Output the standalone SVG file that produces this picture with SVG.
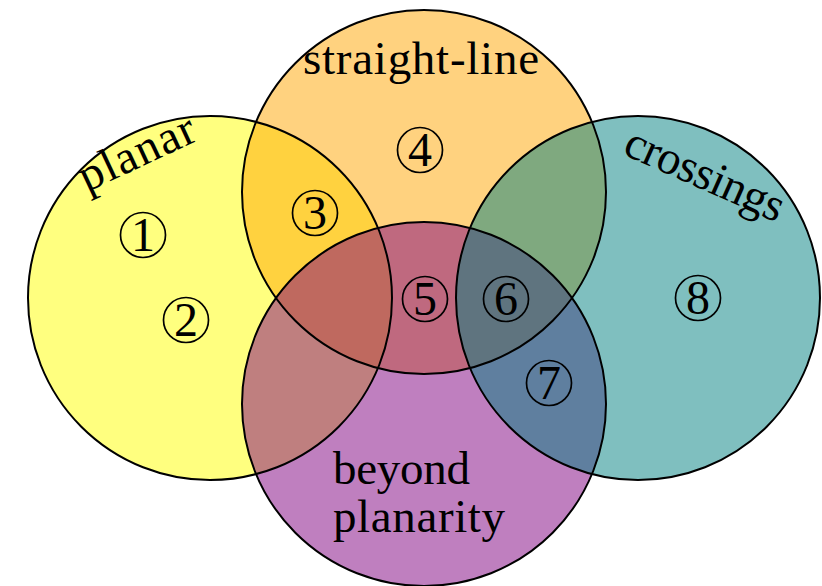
<svg xmlns="http://www.w3.org/2000/svg" width="822" height="586" viewBox="0 0 822 586">
<style>
.fill{stroke:none;fill-opacity:0.5}
.edge{fill:none;stroke:#000;stroke-width:2}
.lbl{font-family:"Liberation Serif","DejaVu Serif",serif;font-size:47px;fill:#000}
.num circle{fill:none;stroke:#000;stroke-width:1.7}
.num text{font-family:"Liberation Serif","DejaVu Serif",serif;font-size:48px;fill:#000;text-anchor:middle}
</style>
<rect width="822" height="586" fill="#fff"/>
<g id="fills">
<circle class="fill" cx="210" cy="298" r="182" fill="#ffff00"/>
<circle class="fill" cx="424" cy="192" r="182" fill="#ffa500"/>
<circle class="fill" cx="424" cy="404" r="182" fill="#800080"/>
<circle class="fill" cx="638" cy="298" r="182" fill="#008080"/>
</g>
<g id="planar">
<circle class="edge" cx="210" cy="298" r="182"/>
<text class="lbl" transform="translate(143,166) rotate(-25)" text-anchor="middle" textLength="124">planar</text>
</g>
<g id="straight-line">
<circle class="edge" cx="424" cy="192" r="182"/>
<text class="lbl" x="421" y="74" text-anchor="middle" textLength="236">straight-line</text>
</g>
<g id="beyond-planarity">
<circle class="edge" cx="424" cy="404" r="182"/>
<text class="lbl" x="333" y="484" textLength="137">beyond</text>
<text class="lbl" x="333" y="532" textLength="172">planarity</text>
</g>
<g id="crossings">
<circle class="edge" cx="638" cy="298" r="182"/>
<text class="lbl" transform="translate(699,188) rotate(24)" text-anchor="middle" textLength="170">crossings</text>
</g>
<g id="regions" class="num">
<g id="r1"><circle cx="143" cy="235" r="22.5"/><text x="143" y="251">1</text></g>
<g id="r2"><circle cx="186" cy="320" r="22.5"/><text x="186" y="336">2</text></g>
<g id="r3"><circle cx="315" cy="213" r="22.5"/><text x="315" y="229">3</text></g>
<g id="r4"><circle cx="420" cy="150" r="22.5"/><text x="420" y="166">4</text></g>
<g id="r5"><circle cx="425" cy="299" r="22.5"/><text x="425" y="315">5</text></g>
<g id="r6"><circle cx="506" cy="299" r="22.5"/><text x="506" y="315">6</text></g>
<g id="r7"><circle cx="549" cy="383" r="22.5"/><text x="549" y="399">7</text></g>
<g id="r8"><circle cx="698" cy="298" r="22.5"/><text x="698" y="314">8</text></g>
</g>
</svg>
